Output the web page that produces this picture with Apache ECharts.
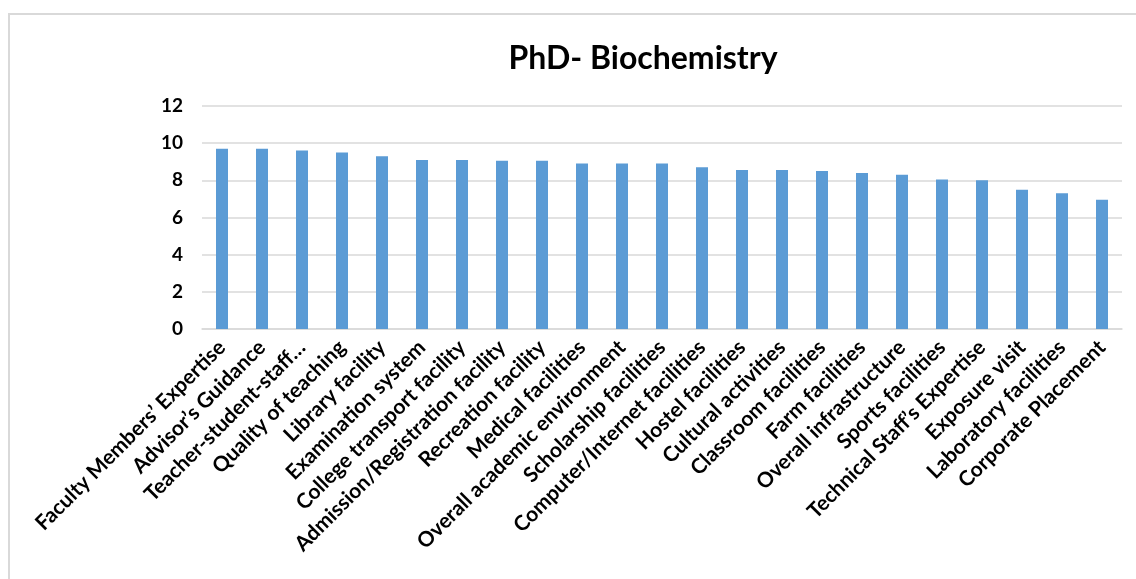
<!DOCTYPE html>
<html>
<head>
<meta charset="utf-8">
<title>PhD- Biochemistry</title>
<script src="https://cdn.jsdelivr.net/npm/echarts@6/dist/echarts.min.js"></script>
<style>
  html, body { margin: 0; padding: 0; background: #fff; }
  #chart { width: 1136px; height: 579px; }
</style>
</head>
<body>
<div id="chart"></div>
<script>
// categories, in the order they appear in the chart
var categories = [
    'Faculty Members\u2019 Expertise', 'Advisor\u2019s Guidance', 'Teacher-student-staff\u2026',
    'Quality of teaching', 'Library facility', 'Examination system',
    'College transport facility', 'Admission/Registration facility', 'Recreation facility',
    'Medical facilities', 'Overall academic environment', 'Scholarship facilities',
    'Computer/Internet facilities', 'Hostel facilities', 'Cultural activities',
    'Classroom facilities', 'Farm facilities', 'Overall infrastructure',
    'Sports facilities', 'Technical Staff\u2019s Expertise', 'Exposure visit',
    'Laboratory facilities', 'Corporate Placement'
];

// scores
var scores = [
    9.7, 9.7, 9.6, 9.5, 9.3, 9.1, 9.1, 9.05, 9.05, 8.9, 8.9, 8.9,
    8.7, 8.55, 8.55, 8.5, 8.4, 8.3, 8.05, 8.0, 7.5, 7.3, 6.95
];

var yTicks = [0, 2, 4, 6, 8, 10, 12];

var chart = echarts.init(document.getElementById('chart'));

var option = {
    backgroundColor: '#fff',
    animation: false,
    textStyle: { fontFamily: 'Lato' },
    graphic: [{
        type: 'rect',
        shape: { x: 9, y: 14, width: 1200, height: 700 },
        style: { fill: 'none', stroke: '#d9d9d9', lineWidth: 2 },
        silent: true
    }],
    title: {
        text: 'PhD- Biochemistry',
        left: 638,
        top: 38,
        textAlign: 'center',
        textStyle: { fontFamily: 'Lato', fontWeight: 'bold', fontSize: 32, color: '#000' }
    },
    grid: { left: 202, right: 14, top: 106, height: 223, containLabel: false },
    xAxis: {
        type: 'category',
        data: categories,
        axisTick: { show: false },
        axisLine: { lineStyle: { color: '#d9d9d9', width: 1.5 } },
        axisLabel: {
            interval: 0,
            rotate: 45,
            margin: 15,
            fontFamily: 'Lato',
            fontWeight: 'bold',
            fontSize: 21,
            color: '#000'
        }
    },
    yAxis: {
        type: 'value',
        min: yTicks[0],
        max: yTicks[yTicks.length - 1],
        interval: 2,
        axisLine: { show: false },
        axisTick: { show: false },
        splitLine: { lineStyle: { color: '#d9d9d9', width: 1.5 } },
        axisLabel: {
            margin: 19,
            fontFamily: 'Lato',
            fontWeight: 'bold',
            fontSize: 19,
            color: '#000'
        }
    },
    series: [{
        type: 'bar',
        data: scores,
        barWidth: 12,
        itemStyle: { color: '#5b9bd5' }
    }]
};

chart.setOption(option);

window.addEventListener('resize', function() {
    chart && chart.resize();
});
</script>
</body>
</html>
